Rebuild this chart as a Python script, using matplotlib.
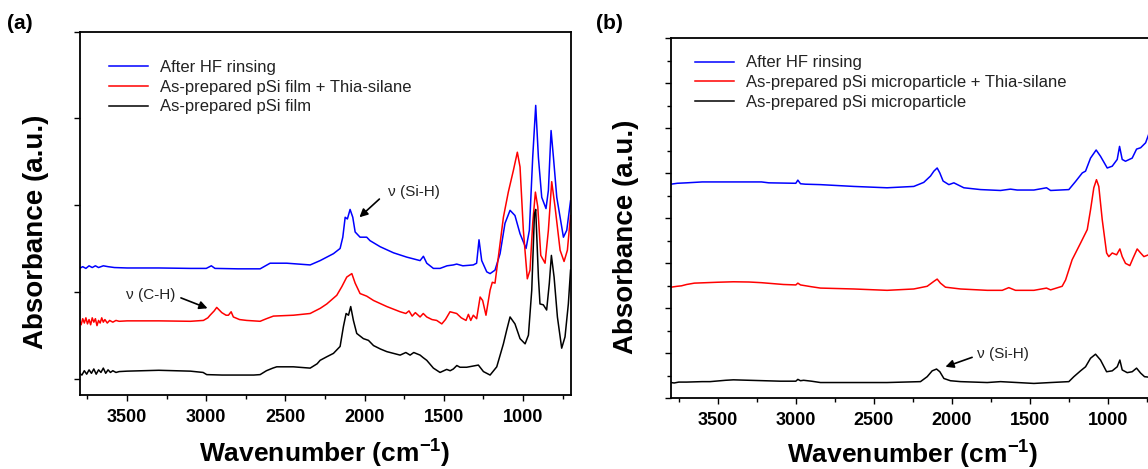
import numpy as np
import matplotlib
matplotlib.use("Agg")
from matplotlib import pyplot as plt
from matplotlib.ticker import MultipleLocator, NullFormatter

plt.rcParams['font.family'] = ['Liberation Sans', 'DejaVu Sans']
plt.rcParams['mathtext.fontset'] = 'custom'
plt.rcParams['mathtext.rm'] = 'Liberation Sans'
plt.rcParams['mathtext.bf'] = 'Liberation Sans:bold'

# ---- panel (a): pSi film, (wavenumber, absorbance) ----
film_bare = [(3800, 0.06), (3785, 0.04), (3770, 0.09), (3755, 0.05), (3740, 0.10), (3725, 0.06),
             (3710, 0.11), (3695, 0.05), (3680, 0.10), (3665, 0.07), (3650, 0.12), (3635, 0.06),
             (3620, 0.10), (3605, 0.07), (3590, 0.09), (3570, 0.07), (3550, 0.08), (3500, 0.085),
             (3400, 0.09), (3300, 0.095), (3200, 0.09), (3100, 0.085), (3020, 0.07), (2997, 0.045),
             (2900, 0.04), (2800, 0.04), (2700, 0.04), (2660, 0.045), (2620, 0.09), (2580, 0.12),
             (2555, 0.135), (2450, 0.135), (2380, 0.125), (2344, 0.12), (2300, 0.17), (2281, 0.21),
             (2240, 0.25), (2197, 0.29), (2155, 0.37), (2134, 0.60), (2117, 0.75), (2102, 0.73),
             (2088, 0.83), (2071, 0.67), (2050, 0.52), (2008, 0.46), (1976, 0.44), (1944, 0.38),
             (1900, 0.34), (1860, 0.31), (1776, 0.27), (1740, 0.30), (1713, 0.27), (1690, 0.30),
             (1650, 0.27), (1630, 0.24), (1608, 0.21), (1566, 0.12), (1524, 0.07), (1482, 0.105),
             (1460, 0.09), (1440, 0.11), (1418, 0.15), (1398, 0.13), (1356, 0.13), (1282, 0.155),
             (1250, 0.08), (1208, 0.04), (1166, 0.135), (1124, 0.40), (1103, 0.56), (1082, 0.71),
             (1051, 0.63), (1019, 0.46), (987, 0.40), (966, 0.50), (945, 1.02), (928, 1.90),
             (920, 1.95), (903, 1.17), (893, 0.86), (872, 0.85), (851, 0.79), (834, 1.10),
             (821, 1.42), (804, 1.17), (783, 0.71), (756, 0.35), (735, 0.48), (714, 0.86), (700, 1.25)]

film_thia = [(3800, 0.66), (3790, 0.62), (3780, 0.69), (3770, 0.64), (3760, 0.70), (3750, 0.63),
             (3740, 0.68), (3730, 0.62), (3720, 0.70), (3710, 0.65), (3700, 0.69), (3690, 0.61),
             (3680, 0.67), (3670, 0.64), (3660, 0.70), (3650, 0.65), (3640, 0.68), (3625, 0.64),
             (3610, 0.67), (3590, 0.65), (3570, 0.67), (3550, 0.66), (3500, 0.665), (3300, 0.665),
             (3100, 0.66), (3018, 0.67), (2990, 0.70), (2976, 0.73), (2950, 0.78), (2934, 0.82),
             (2918, 0.79), (2902, 0.76), (2875, 0.73), (2860, 0.73), (2843, 0.77), (2829, 0.71),
             (2790, 0.68), (2745, 0.67), (2660, 0.66), (2620, 0.69), (2576, 0.72), (2450, 0.73),
             (2344, 0.75), (2323, 0.77), (2280, 0.81), (2239, 0.86), (2176, 0.96), (2144, 1.06),
             (2113, 1.17), (2081, 1.21), (2060, 1.10), (2029, 0.98), (1987, 0.95), (1944, 0.90),
             (1860, 0.83), (1776, 0.77), (1740, 0.75), (1720, 0.78), (1700, 0.72), (1680, 0.76),
             (1650, 0.71), (1630, 0.75), (1608, 0.71), (1575, 0.68), (1545, 0.67), (1513, 0.63),
             (1490, 0.68), (1461, 0.77), (1440, 0.76), (1419, 0.75), (1390, 0.70), (1360, 0.67),
             (1345, 0.74), (1330, 0.67), (1314, 0.73), (1293, 0.69), (1271, 0.94), (1255, 0.90),
             (1234, 0.73), (1208, 1.02), (1194, 1.11), (1177, 1.10), (1156, 1.40), (1124, 1.86),
             (1093, 2.15), (1061, 2.40), (1036, 2.61), (1019, 2.44), (998, 1.71), (973, 1.15),
             (956, 1.25), (939, 1.79), (922, 2.15), (907, 1.98), (888, 1.42), (861, 1.33),
             (840, 1.71), (819, 2.27), (798, 1.98), (766, 1.48), (741, 1.35), (720, 1.48), (700, 1.88)]

film_hf = [(3800, 1.27), (3780, 1.29), (3760, 1.27), (3740, 1.30), (3720, 1.28), (3700, 1.30),
           (3680, 1.28), (3650, 1.30), (3620, 1.29), (3580, 1.28), (3500, 1.275), (3300, 1.275),
           (3100, 1.27), (3000, 1.27), (2968, 1.30), (2945, 1.27), (2800, 1.265), (2660, 1.265),
           (2597, 1.33), (2492, 1.33), (2344, 1.31), (2281, 1.36), (2197, 1.44), (2155, 1.50),
           (2138, 1.63), (2123, 1.86), (2109, 1.84), (2092, 1.95), (2075, 1.86), (2060, 1.69),
           (2029, 1.63), (1987, 1.63), (1966, 1.59), (1902, 1.52), (1818, 1.45), (1734, 1.40),
           (1650, 1.36), (1629, 1.41), (1608, 1.33), (1566, 1.27), (1524, 1.27), (1480, 1.30),
           (1440, 1.31), (1419, 1.32), (1380, 1.30), (1314, 1.31), (1293, 1.33), (1278, 1.60),
           (1261, 1.36), (1229, 1.23), (1208, 1.21), (1177, 1.25), (1145, 1.44), (1114, 1.79),
           (1082, 1.94), (1051, 1.88), (1019, 1.67), (981, 1.50), (960, 1.71), (939, 2.55),
           (920, 3.15), (903, 2.55), (882, 2.09), (855, 1.96), (840, 2.17), (823, 2.86),
           (808, 2.55), (787, 2.09), (745, 1.63), (724, 1.71), (700, 2.05)]

# ---- panel (b): pSi microparticle ----
mp_bare = [(3800, 0.35), (3780, 0.34), (3750, 0.36), (3700, 0.36), (3600, 0.37), (3550, 0.37),
           (3450, 0.40), (3400, 0.41), (3300, 0.40), (3200, 0.39), (3100, 0.38), (3000, 0.38),
           (2987, 0.42), (2970, 0.39), (2950, 0.40), (2900, 0.38), (2842, 0.35), (2415, 0.35),
           (2201, 0.37), (2158, 0.48), (2126, 0.61), (2098, 0.65), (2077, 0.59), (2051, 0.44),
           (2009, 0.39), (1944, 0.37), (1773, 0.35), (1688, 0.37), (1581, 0.35), (1474, 0.33),
           (1367, 0.35), (1250, 0.37), (1218, 0.48), (1175, 0.61), (1143, 0.70), (1111, 0.89),
           (1079, 0.98), (1047, 0.85), (1008, 0.59), (972, 0.61), (940, 0.70), (923, 0.85),
           (908, 0.63), (876, 0.57), (844, 0.59), (816, 0.67), (790, 0.56), (765, 0.48),
           (739, 0.47), (700, 0.45)]

mp_thia = [(3800, 2.47), (3760, 2.49), (3733, 2.50), (3700, 2.53), (3650, 2.56), (3500, 2.58),
           (3400, 2.59), (3300, 2.585), (3220, 2.57), (3080, 2.53), (3000, 2.52), (2987, 2.56),
           (2970, 2.52), (2900, 2.48), (2842, 2.45), (2628, 2.43), (2415, 2.40), (2244, 2.43),
           (2158, 2.49), (2115, 2.60), (2094, 2.65), (2073, 2.56), (2041, 2.47), (1944, 2.43),
           (1773, 2.40), (1677, 2.40), (1635, 2.46), (1592, 2.40), (1474, 2.40), (1393, 2.45),
           (1367, 2.41), (1293, 2.49), (1271, 2.63), (1229, 3.08), (1175, 3.45), (1132, 3.75),
           (1111, 4.19), (1090, 4.68), (1073, 4.86), (1058, 4.71), (1036, 3.97), (1008, 3.23),
           (994, 3.15), (972, 3.23), (944, 3.19), (923, 3.32), (908, 3.15), (887, 3.00),
           (859, 2.95), (838, 3.12), (812, 3.32), (790, 3.23), (769, 3.15), (739, 3.19), (700, 3.25)]

mp_hf = [(3800, 4.76), (3760, 4.78), (3700, 4.79), (3600, 4.81), (3400, 4.81), (3220, 4.81),
         (3173, 4.79), (3000, 4.78), (2987, 4.85), (2970, 4.77), (2940, 4.76), (2842, 4.75),
         (2628, 4.71), (2415, 4.68), (2244, 4.71), (2180, 4.80), (2137, 4.94), (2115, 5.05),
         (2094, 5.12), (2077, 5.01), (2056, 4.83), (2019, 4.75), (1987, 4.79), (1923, 4.68),
         (1816, 4.64), (1688, 4.62), (1624, 4.65), (1581, 4.63), (1474, 4.63), (1393, 4.68),
         (1367, 4.62), (1250, 4.64), (1207, 4.82), (1164, 5.01), (1143, 5.05), (1111, 5.34),
         (1075, 5.52), (1047, 5.38), (1004, 5.12), (972, 5.16), (940, 5.31), (925, 5.60),
         (908, 5.31), (887, 5.27), (844, 5.34), (816, 5.54), (790, 5.57), (758, 5.68),
         (739, 5.86), (700, 6.30)]

labels_a = ['After HF rinsing', 'As-prepared pSi film + Thia-silane', 'As-prepared pSi film']
labels_b = ['After HF rinsing', 'As-prepared pSi microparticle + Thia-silane',
            'As-prepared pSi microparticle']
colors = ['#0000ff', '#ff0000', '#000000']

fig = plt.figure(figsize=(11.48, 4.69), dpi=100)
ax_a = fig.add_axes([0.0693, 0.1578, 0.4277, 0.7746])
ax_b = fig.add_axes([0.5845, 0.1508, 0.4213, 0.7672])


def draw_panel(ax, series, labels, pad):
    for data, lab, col in zip(series, labels, colors):
        arr = np.array(data)
        ax.plot(arr[:, 0], arr[:, 1], color=col, lw=1.1, label=lab)
    ax.set_xlim(3800, 700)
    ax.xaxis.set_major_locator(MultipleLocator(500))
    ax.xaxis.set_minor_locator(MultipleLocator(250))
    ax.tick_params(axis='both', which='major', direction='out', length=4, width=1.0,
                   labelsize=13, pad=6)
    ax.tick_params(axis='both', which='minor', direction='out', length=3, width=1.0)
    ax.yaxis.set_major_formatter(NullFormatter())
    for lbl in ax.get_xticklabels():
        lbl.set_fontweight('bold')
    for sp in ax.spines.values():
        sp.set_linewidth(1.3)
    ax.set_xlabel(r'Wavenumber (cm$^{\mathbf{-1}}$)', fontsize=19, fontweight='bold', labelpad=pad)
    ax.set_ylabel('Absorbance (a.u.)', fontsize=20, fontweight='bold')
    ax.legend(loc='upper left', frameon=False, fontsize=12, handlelength=2.35,
              handletextpad=0.72, labelspacing=0.28, borderpad=0, borderaxespad=0,
              labelcolor='#222222')


draw_panel(ax_a, [film_hf, film_thia, film_bare], labels_a, 7)
ax_a.set_ylim(-0.19, 4.0)
ax_a.yaxis.set_major_locator(MultipleLocator(1))
ax_a.yaxis.set_label_coords(-0.062, 0.45)
ax_a.get_legend().set_bbox_to_anchor((0.06, 0.922))

draw_panel(ax_b, [mp_hf, mp_thia, mp_bare], labels_b, 5.5)
ax_b.set_ylim(0, 8)
ax_b.yaxis.set_major_locator(MultipleLocator(1))
ax_b.yaxis.set_minor_locator(MultipleLocator(0.5))
ax_b.yaxis.set_label_coords(-0.066, 0.45)
ax_b.get_legend().set_bbox_to_anchor((0.05, 0.953))

arrow = dict(arrowstyle='-|>', color='black', lw=1.2, mutation_scale=12, shrinkA=0, shrinkB=0)
ax_a.annotate('', xy=(2033, 1.86), xytext=(1907, 2.07), arrowprops=arrow)
ax_a.text(1850, 2.15, u'\u03bd (Si-H)', fontsize=11, color='#222222', ha='left', va='center')
ax_a.annotate('', xy=(2992, 0.81), xytext=(3160, 0.93), arrowprops=arrow)
ax_a.text(3507, 0.96, u'\u03bd (C-H)', fontsize=11, color='#222222', ha='left', va='center')
ax_b.annotate('', xy=(2041, 0.70), xytext=(1870, 0.91), arrowprops=arrow)
ax_b.text(1838, 0.99, u'\u03bd (Si-H)', fontsize=11, color='#222222', ha='left', va='center')

fig.text(0.006, 0.949, '(a)', fontsize=15, fontweight='bold', va='center', ha='left')
fig.text(0.519, 0.949, '(b)', fontsize=15, fontweight='bold', va='center', ha='left')

fig.savefig('out.png', dpi=100)
